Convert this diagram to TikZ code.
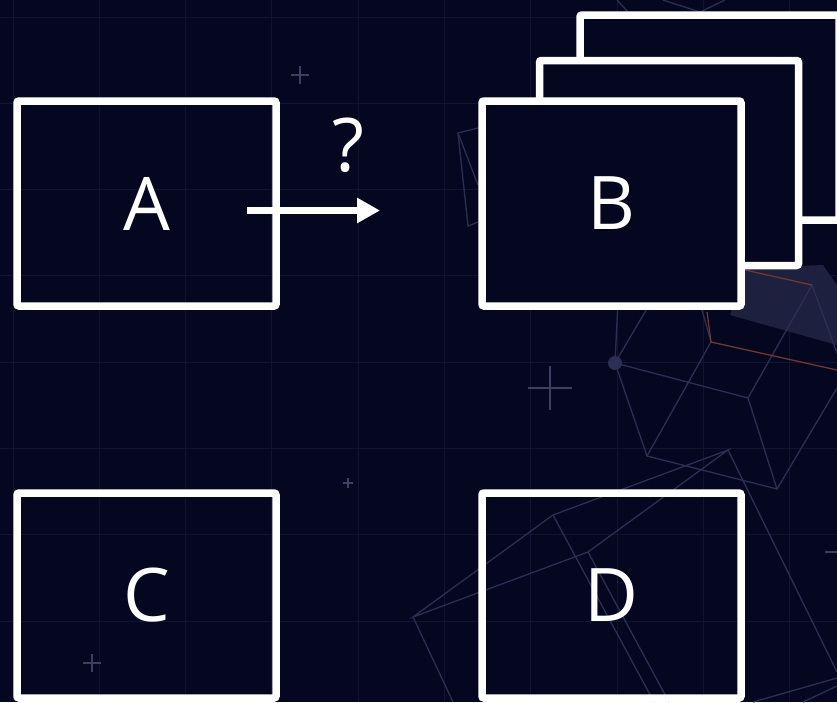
\documentclass[tikz,border=0pt]{standalone}
\usepackage{fontspec}
\setmainfont{Open Sans}
\usetikzlibrary{arrows.meta}

\definecolor{bgnavy}{RGB}{5,6,32}
\definecolor{gridnavy}{RGB}{17,19,48}
\definecolor{decoline}{RGB}{44,47,84}
\definecolor{decorust}{RGB}{112,56,46}
\definecolor{decoshade}{RGB}{30,32,64}
\definecolor{plusgray}{RGB}{62,64,98}

\tikzset{
  box/.style={draw=white, line width=7.5pt, rounded corners=2pt,
    minimum width=259pt, minimum height=205pt, inner sep=0pt,
    text=white, font=\fontsize{74}{80}\selectfont},
  stackbox/.style={box, fill=bgnavy},
  gridline/.style={draw=gridnavy, line width=1pt},
  deco/.style={draw=decoline, line width=1.3pt},
  plusline/.style={draw=plusgray, line width=1.2pt}
}

\begin{document}
\begin{tikzpicture}[x=1pt, y=-1pt]
    % background and frame
    \fill[bgnavy] (0,0) rectangle (837,702);
    \useasboundingbox (0,0) rectangle (837,702);
    \clip (0,0) rectangle (837,702);

    % faint grid
    \foreach \i in {0,...,9}
        \draw[gridline] ({13+86.3*\i},0) -- ++(0,702);
    \foreach \i in {0,...,8}
        \draw[gridline] (0,{17+86.3*\i}) -- ++(837,0);

    % shaded facet
    \fill[decoshade] (730,315) -- (745,268) -- (823,265) -- (837,285) -- (837,345) -- cycle;

    % polygon lines
    \draw[deco] (615,363) -- (748,398) -- (777,489) -- (647,456) -- cycle;
    \draw[deco] (748,398) -- (812,285) -- (837,353);
    \draw[deco] (647,456) -- (711,342) -- (702,310);
    \draw[deco] (837,388) -- (777,489);
    \draw[deco] (615,363) -- (652,300);
    \draw[deco] (615,363) -- (618,300);
    \draw[deco] (413,617) -- (553,515) -- (728,450) -- (588,552) -- cycle;
    \draw[deco] (553,515) -- (654,702);
    \draw[deco] (588,552) -- (669,702);
    \draw[deco] (413,617) -- (453,702);
    \draw[deco] (728,450) -- (837,672);
    \draw[deco] (837,678) -- (753,702);
    \draw[deco] (837,686) -- (803,702);
    \draw[deco] (458,133) -- (478,128);
    \draw[deco] (458,133) -- (468,226) -- (478,222);
    \draw[deco] (458,133) -- (478,185);
    \draw[deco] (663,0) -- (700,12) -- (725,0);
    \draw[deco] (617,0) -- (628,12);

    % rust lines
    \draw[decorust, line width=1.3pt] (707,312) -- (711,342) -- (837,370);
    \draw[decorust, line width=1.3pt] (745,270) -- (812,285);
    \fill[decoline] (615,363) circle (7);

    % crosses
    \foreach \px/\py/\ps in {300/75/9, 348/483/5, 92/663/9, 550/388/22, 847/552/22}
        \draw[plusline] ({\px-\ps},\py) -- ({\px+\ps},\py) (\px,{\py-\ps}) -- (\px,{\py+\ps});

    % boxes
    \node[box] (A) at (146.5,203.5) {A};
    \node[stackbox] (B3) at (709.5,117.5) {};
    \node[stackbox] (B2) at (669,163) {};
    \node[stackbox] (B) at (611.5,203.5) {B};
    \node[box] (C) at (146.5,595.5) {C};
    \node[box] (D) at (611.5,595.5) {D};

    % unknown mapping
    \coordinate (qstart) at (247,210.5);
    \coordinate (qend) at (380,210.5);
    \draw[white, line width=7pt, -{Triangle[length=23pt,width=24pt]}] (qstart) -- (qend);
    \node[text=white, font=\fontsize{74}{80}\selectfont] (q) at (348,145) {?};
\end{tikzpicture}
\end{document}
